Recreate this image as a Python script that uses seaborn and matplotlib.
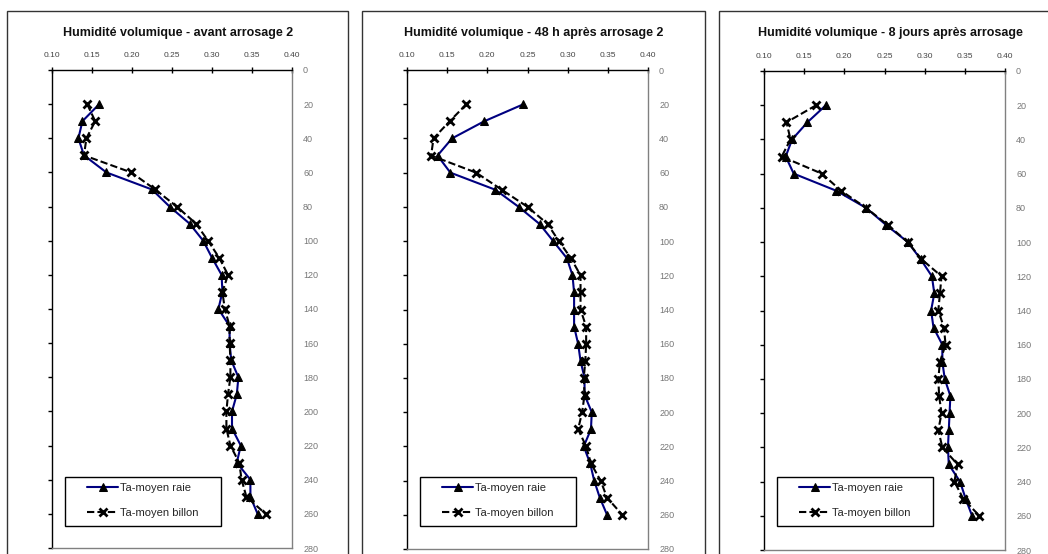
import matplotlib
matplotlib.use("Agg")
import matplotlib.pyplot as plt
from matplotlib.patches import Rectangle
import pandas as pd
import seaborn as sns

# Depth (cm) of each measurement
depths = [20, 30, 40, 50, 60, 70, 80, 90, 100, 110, 120, 130, 140,
          150, 160, 170, 180, 190, 200, 210, 220, 230, 240, 250, 260]

titles = [
    "Humidité volumique - avant arrosage 2",
    "Humidité volumique - 48 h après arrosage 2",
    "Humidité volumique - 8 jours après arrosage",
]

label_raie = "Ta-moyen raie"
label_billon = "Ta-moyen billon"

# Volumetric water content
avant_raie = [0.159, 0.138, 0.133, 0.140, 0.168, 0.225, 0.247, 0.272, 0.289, 0.300, 0.312, 0.313, 0.308,
              0.322, 0.322, 0.324, 0.333, 0.331, 0.325, 0.325, 0.336, 0.331, 0.348, 0.348, 0.357]
avant_billon = [0.144, 0.154, 0.143, 0.140, 0.199, 0.229, 0.256, 0.280, 0.295, 0.309, 0.320, 0.313, 0.316,
                0.322, 0.322, 0.323, 0.323, 0.320, 0.318, 0.318, 0.323, 0.334, 0.337, 0.343, 0.367]

h48_raie = [0.245, 0.196, 0.156, 0.138, 0.154, 0.210, 0.239, 0.265, 0.282, 0.299, 0.306, 0.308, 0.308,
            0.308, 0.313, 0.316, 0.321, 0.321, 0.330, 0.329, 0.320, 0.328, 0.333, 0.340, 0.349]
h48_billon = [0.174, 0.153, 0.133, 0.130, 0.186, 0.218, 0.250, 0.275, 0.289, 0.304, 0.316, 0.316, 0.316,
              0.323, 0.323, 0.322, 0.320, 0.321, 0.318, 0.313, 0.323, 0.329, 0.341, 0.349, 0.368]

j8_raie = [0.177, 0.154, 0.135, 0.127, 0.137, 0.190, 0.227, 0.252, 0.279, 0.295, 0.309, 0.312, 0.308,
           0.311, 0.322, 0.322, 0.325, 0.332, 0.331, 0.330, 0.329, 0.330, 0.344, 0.351, 0.359]
j8_billon = [0.165, 0.128, 0.133, 0.122, 0.172, 0.196, 0.227, 0.254, 0.279, 0.296, 0.321, 0.319, 0.317,
             0.324, 0.326, 0.319, 0.317, 0.318, 0.321, 0.317, 0.322, 0.341, 0.337, 0.348, 0.368]

x_ticks = [0.10, 0.15, 0.20, 0.25, 0.30, 0.35, 0.40]
y_ticks = [0, 20, 40, 60, 80, 100, 120, 140, 160, 180, 200, 220, 240, 260, 280]

sns.set_theme(style="white")
plt.rcParams["font.family"] = ["Liberation Sans", "DejaVu Sans"]

W, H = 1048, 554
fig = plt.figure(figsize=(W / 100, H / 100), dpi=100)

# pixel boxes: (left, right, top, bottom) of plot area, panel frame (left, right, top), title centre x
plot_boxes = [(52, 292, 70, 548), (407, 648, 70, 549), (764, 1005, 71, 550)]
frames = [(7, 348, 11), (362, 705, 11), (719, 1060, 11)]
title_x = [178, 534, 890]
panels = [(avant_raie, avant_billon), (h48_raie, h48_billon), (j8_raie, j8_billon)]

for i in range(3):
    fl, fr, ft = frames[i]
    fig.add_artist(Rectangle((fl / W, -0.1), (fr - fl) / W, 1.1 - ft / H,
                             transform=fig.transFigure, fill=False,
                             edgecolor="#333333", linewidth=1))

    l, r, t, b = plot_boxes[i]
    ax = fig.add_axes([l / W, 1 - b / H, (r - l) / W, (b - t) / H])
    raie, billon = panels[i]
    df = pd.DataFrame({"depth": depths, "raie": raie, "billon": billon})

    sns.lineplot(data=df, x="raie", y="depth", ax=ax, estimator=None, sort=False,
                 color="#000080", linewidth=1.5, marker="^", markersize=6,
                 markerfacecolor="black", markeredgecolor="black", label=label_raie)
    sns.lineplot(data=df, x="billon", y="depth", ax=ax, estimator=None, sort=False,
                 color="black", linewidth=1.5, dashes=(3.5, 1.5), marker="x", markersize=6,
                 markeredgewidth=2, markeredgecolor="black", label=label_billon)

    ax.set_xlim(0.10, 0.40)
    ax.set_ylim(280, 0)
    ax.set_xticks(x_ticks)
    ax.set_xticklabels([f"{v:.2f}" for v in x_ticks])
    ax.set_yticks(y_ticks)
    ax.set_xlabel("")
    ax.set_ylabel("")

    ax.xaxis.tick_top()
    ax.tick_params(axis="x", top=True, bottom=False, labeltop=True, labelbottom=False,
                   direction="inout", length=4, width=1, color="black",
                   labelsize=6, labelcolor="#444444", pad=6)
    ax.tick_params(axis="y", left=True, right=False, labelleft=False, labelright=True,
                   direction="out", length=3, width=1, color="black",
                   labelsize=6.5, labelcolor="#777777", pad=5)

    for side in ["top", "left"]:
        ax.spines[side].set_color("black")
        ax.spines[side].set_linewidth(1)
    for side in ["right", "bottom"]:
        ax.spines[side].set_color("#808080")
        ax.spines[side].set_linewidth(1)

    # legend entries without frame, frame drawn as a box like the reference
    leg_x = 35 / (r - l)
    leg_y = (b - 500.5) / (b - t)
    ax.legend(loc="center left", bbox_to_anchor=(leg_x, leg_y), borderaxespad=0,
              borderpad=0, fontsize=8, frameon=False, handlelength=2.8,
              labelspacing=1.3, handletextpad=0.2)
    fig.add_artist(Rectangle(((l + 13) / W, 1 - 526 / H), 156 / W, 49 / H,
                             transform=fig.transFigure, fill=False,
                             edgecolor="black", linewidth=1, zorder=5))

    fig.text(title_x[i] / W, 1 - 33 / H, titles[i],
             ha="center", va="center", fontsize=9, fontweight="bold", color="#111111")

fig.savefig("out.png", dpi=100)
